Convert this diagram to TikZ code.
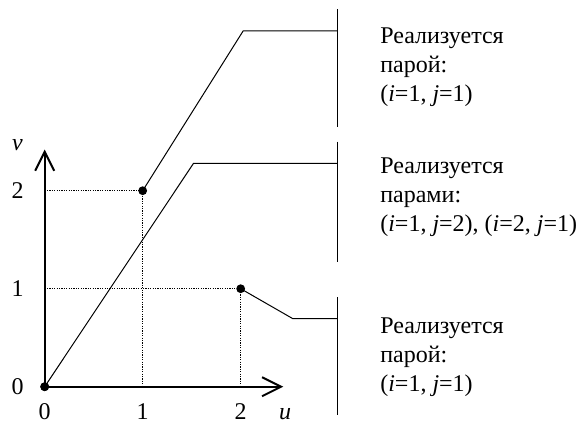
\documentclass[tikz,border=0pt]{standalone}
\usepackage{fontspec}
\setmainfont{Liberation Serif}
\usetikzlibrary{arrows.meta}

\begin{document}
\begin{tikzpicture}[x=49pt, y=49pt, font=\fontsize{12}{14.5}\selectfont,
    axis/.style ={line width=1pt, -{Straight Barb[length=9.5pt, width=9.5pt, line width=1pt]}},
    curve/.style={line width=0.5pt},
    bar/.style  ={line width=0.5pt},
    guide/.style={line width=0.55pt, dash pattern=on 0.6pt off 0.6pt},
    pt/.style   ={circle, fill, inner sep=0pt, minimum size=4.4pt},
    lbl/.style  ={inner sep=0pt},
    note/.style ={anchor=north west, align=left, inner sep=0pt},
  ]
  \useasboundingbox (-0.456,-0.360) rectangle (5.483,3.946);
  % points
  \node[pt] (p00) at (0,0) {};
  \node[pt] (p12) at (1,2) {};
  \node[pt] (p21) at (2,1) {};
  \coordinate (utip) at (2.435,0);
  \coordinate (vtip) at (0,2.42);
  % dotted guides
  \draw[guide] (p00 |- p12) -- (p12.center) -- (p12 |- p00);
  \draw[guide] (p00 |- p21) -- (p21.center) -- (p21 |- p00);
  % broken lines
  \coordinate (a1) at (2.025,3.63);  \coordinate (a2) at (2.985,3.63);
  \coordinate (b1) at (1.518,2.278); \coordinate (b2) at (2.985,2.278);
  \coordinate (c1) at (2.529,0.696); \coordinate (c2) at (2.985,0.696);
  \draw[curve] (p12.center) -- (a1) -- (a2);
  \draw[curve] (p00.center) -- (b1) -- (b2);
  \draw[curve] (p21.center) -- (c1) -- (c2);
  \foreach \t/\b in {3.854/2.645, 2.5/1.276, 0.915/-0.289}
    \draw[bar] (2.985,\t) -- (2.985,\b);
  % axes
  \draw[axis] (p00.center) -- (utip);
  \draw[axis] (p00.center) -- (vtip);
  \node[pt] at (p00) {};
  \foreach \k in {0,1,2}{
    \node[lbl, anchor=base] (ux\k) at (\k,-0.33) {\k};
    \node[lbl, anchor=east] (vy\k) at (-0.21,\k) {\k};
  }
  \node[lbl, anchor=base] (ulab) at (2.453,-0.33) {\textit{u}};
  \node[lbl, anchor=base] (vlab) at (-0.278,2.415) {\textit{v}};
  % notes
  \node[note] (n1) at (3.421,3.668) {Реализуется\\парой:\\(\textit{i}=1, \textit{j}=1)};
  \node[note] (n2) at (3.421,2.345) {Реализуется\\парами:\\(\textit{i}=1, \textit{j}=2), (\textit{i}=2, \textit{j}=1)};
  \node[note] (n3) at (3.421,0.712) {Реализуется\\парой:\\(\textit{i}=1, \textit{j}=1)};
\end{tikzpicture}
\end{document}
